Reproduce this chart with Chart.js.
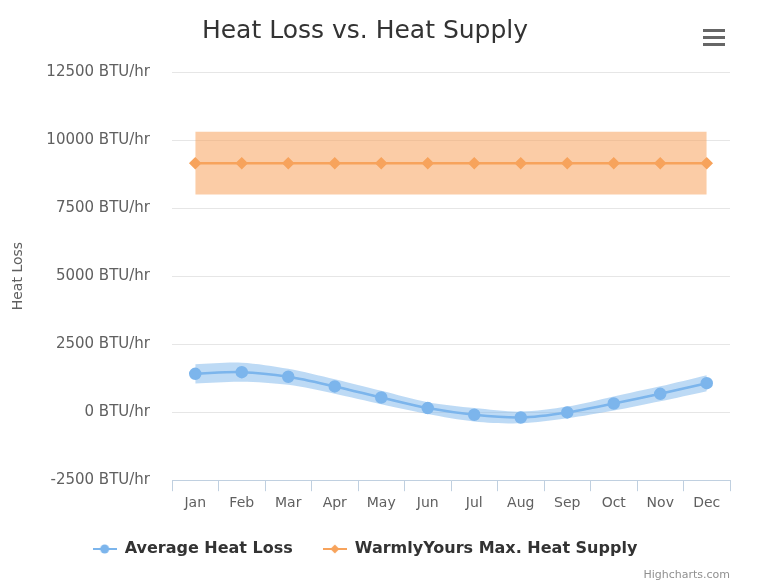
<!DOCTYPE html>
<html>
<head>
<meta charset="utf-8">
<script src="https://cdn.jsdelivr.net/npm/chart.js@4.4.1/dist/chart.umd.min.js"></script>
<style>
  html, body { margin: 0; padding: 0; background: #fff; }
  #wrap { width: 760px; height: 583px; position: relative; }
</style>
</head>
<body>
<div id="wrap"><canvas id="chart"></canvas></div>
<script>
// chart data
const months = ["Jan", "Feb", "Mar", "Apr", "May", "Jun", "Jul", "Aug", "Sep", "Oct", "Nov", "Dec"];
const avgHeatLoss = [1410, 1470, 1300, 945, 540, 150, -95, -195, -10, 320, 675, 1065];
const heatLossLow = [1055, 1120, 1005, 680, 295, -65, -340, -410, -225, 60, 400, 770];
const heatLossHigh = [1765, 1820, 1595, 1210, 785, 365, 150, 20, 205, 580, 950, 1360];
const maxHeatSupply = [9150, 9150, 9150, 9150, 9150, 9150, 9150, 9150, 9150, 9150, 9150, 9150];
const heatSupplyLow = [8000, 8000, 8000, 8000, 8000, 8000, 8000, 8000, 8000, 8000, 8000, 8000];
const heatSupplyHigh = [10300, 10300, 10300, 10300, 10300, 10300, 10300, 10300, 10300, 10300, 10300, 10300];
const yMin = -2500;
const yMax = 12500;
const yStep = 2500;

const BLUE = "#7cb5ec";
const ORANGE = "#f7a35c";
const FONT = "'DejaVu Sans', 'Liberation Sans', sans-serif";

// legend symbol: short line with the marker on it
function legendSymbol(color, shape) {
  const c = document.createElement("canvas");
  c.width = 24;
  c.height = 12;
  const ctx = c.getContext("2d");
  ctx.strokeStyle = color;
  ctx.lineWidth = 2;
  ctx.beginPath();
  ctx.moveTo(0, 6);
  ctx.lineTo(24, 6);
  ctx.stroke();
  ctx.fillStyle = color;
  ctx.beginPath();
  if (shape === "circle") {
    ctx.arc(12, 6, 4.5, 0, Math.PI * 2);
  } else {
    ctx.moveTo(12, 1.5);
    ctx.lineTo(16.5, 6);
    ctx.lineTo(12, 10.5);
    ctx.lineTo(7.5, 6);
    ctx.closePath();
  }
  ctx.fill();
  return c;
}

// hamburger menu and credits text
const extras = {
  id: "extras",
  afterDraw(chart) {
    const ctx = chart.ctx;
    ctx.save();
    ctx.fillStyle = "#666";
    [29, 36, 43].forEach((y) => ctx.fillRect(703, y, 22, 3));
    ctx.font = "11px " + FONT;
    ctx.fillStyle = "#909090";
    ctx.textAlign = "right";
    ctx.textBaseline = "middle";
    ctx.fillText("Highcharts.com", 730, 575);
    ctx.restore();
  },
};

const chart = new Chart(document.getElementById("chart"), {
  type: "line",
  data: {
    labels: months,
    datasets: [
      {
        label: "Average Heat Loss",
        data: avgHeatLoss,
        borderColor: BLUE,
        backgroundColor: BLUE,
        borderWidth: 2.5,
        pointRadius: 5,
        pointHoverRadius: 5,
        pointStyle: "circle",
        tension: 0.3,
        fill: false,
        order: 1,
      },
      {
        label: "WarmlyYours Max. Heat Supply",
        data: maxHeatSupply,
        borderColor: ORANGE,
        backgroundColor: ORANGE,
        borderWidth: 2.5,
        pointRadius: 4.5,
        pointHoverRadius: 4.5,
        pointStyle: "rectRot",
        fill: false,
        order: 1,
      },
      {
        label: "lossLow",
        data: heatLossLow,
        borderWidth: 0,
        pointRadius: 0,
        tension: 0.3,
        fill: false,
        order: 2,
      },
      {
        label: "lossHigh",
        data: heatLossHigh,
        borderWidth: 0,
        pointRadius: 0,
        tension: 0.3,
        backgroundColor: "rgba(124,181,236,0.5)",
        fill: "-1",
        order: 2,
      },
      {
        label: "supplyLow",
        data: heatSupplyLow,
        borderWidth: 0,
        pointRadius: 0,
        fill: false,
        order: 2,
      },
      {
        label: "supplyHigh",
        data: heatSupplyHigh,
        borderWidth: 0,
        pointRadius: 0,
        backgroundColor: "rgba(247,163,92,0.55)",
        fill: "-1",
        order: 2,
      },
    ],
  },
  options: {
    responsive: true,
    maintainAspectRatio: false,
    animation: false,
    layout: { padding: { left: 0, right: 30, top: 0, bottom: 16 } },
    plugins: {
      title: {
        display: true,
        text: "Heat Loss vs. Heat Supply",
        color: "#333",
        font: { family: FONT, size: 25, weight: "normal" },
        padding: { top: 16, bottom: 26 },
      },
      legend: {
        position: "bottom",
        labels: {
          usePointStyle: true,
          pointStyleWidth: 24,
          padding: 30,
          color: "#333",
          font: { family: FONT, size: 16, weight: "bold" },
          generateLabels: () => [
            { text: "Average Heat Loss", pointStyle: legendSymbol(BLUE, "circle"), datasetIndex: 0, lineWidth: 0, fillStyle: BLUE, strokeStyle: BLUE, fontColor: "#333" },
            { text: "WarmlyYours Max. Heat Supply", pointStyle: legendSymbol(ORANGE, "diamond"), datasetIndex: 1, lineWidth: 0, fillStyle: ORANGE, strokeStyle: ORANGE, fontColor: "#333" },
          ],
        },
      },
      tooltip: { enabled: false },
    },
    scales: {
      x: {
        offset: true,
        afterFit: (scale) => { scale.height -= 5; },
        grid: {
          offset: true,
          drawOnChartArea: false,
          drawTicks: true,
          tickLength: 11,
          color: "#C0D0E0",
        },
        border: { display: true, color: "#C0D0E0", width: 1 },
        ticks: {
          color: "#606060",
          padding: 4,
          maxRotation: 0,
          font: { family: FONT, size: 14 },
        },
      },
      y: {
        min: yMin,
        max: yMax,
        afterFit: (scale) => { scale.width = 172; },
        grid: { color: "#E6E6E6", drawTicks: false },
        border: { display: false },
        ticks: {
          stepSize: yStep,
          padding: 22,
          color: "#606060",
          font: { family: FONT, size: 15 },
          callback: (v) => v + " BTU/hr",
        },
        title: {
          display: true,
          text: "Heat Loss",
          color: "#606060",
          font: { family: FONT, size: 14 },
          padding: { top: 10, bottom: 0 },
        },
      },
    },
  },
  plugins: [extras],
});
</script>
</body>
</html>
